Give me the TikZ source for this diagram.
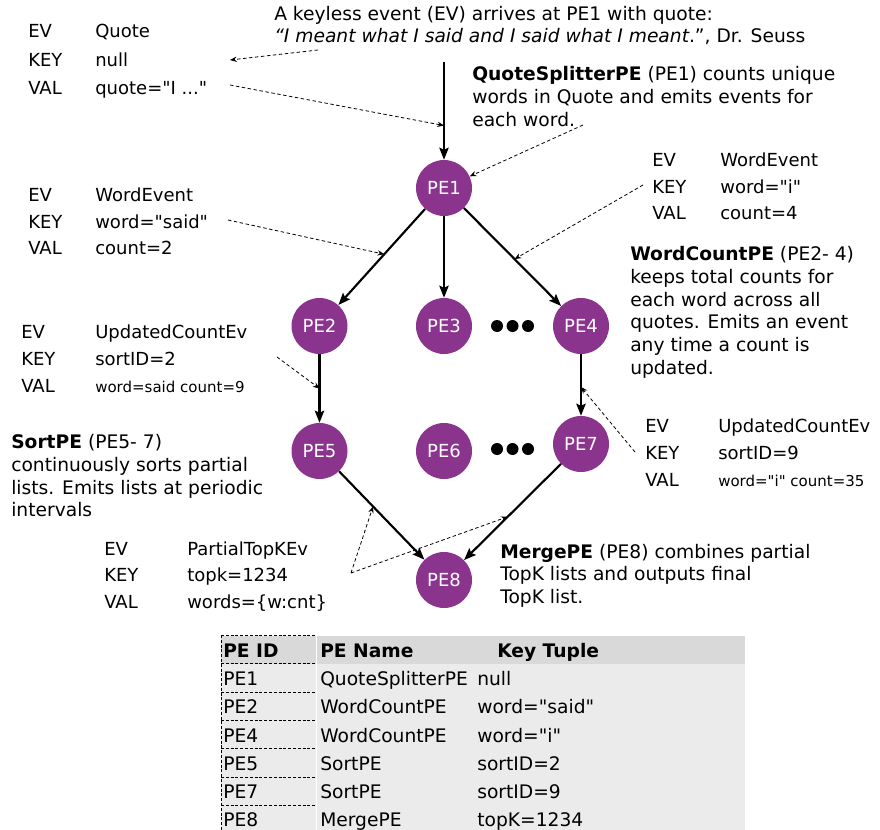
\documentclass[tikz,border=0pt]{standalone}
\usepackage{fontspec}
\setmainfont{DejaVu Sans}[Ligatures=TeXOff]
\usetikzlibrary{arrows.meta,calc}
\definecolor{pepurple}{HTML}{8B348E}
\definecolor{headgray}{HTML}{D9D9D9}
\definecolor{rowgray}{HTML}{EBEBEB}

\newcommand{\evsize}{\fontsize{13.5pt}{16pt}\selectfont}
\newcommand{\descsize}{\fontsize{14pt}{17pt}\selectfont}
\newcommand{\valsize}{\fontsize{11.25pt}{13pt}\selectfont}

% one event record: name, label x, value x, first baseline, row gap, EV, KEY, VAL
\newcommand{\evblock}[8]{%
  \node[evtxt] (#1-ev)   at (#2,#4)      {EV};
  \node[evtxt] (#1-key)  at (#2,#4+#5)   {KEY};
  \node[evtxt] (#1-val)  at (#2,#4+2*#5) {VAL};
  \node[evtxt] (#1-evv)  at (#3,#4)      {#6};
  \node[evtxt] (#1-keyv) at (#3,#4+#5)   {#7};
  \node[evtxt] (#1-valv) at (#3,#4+2*#5) {#8};
}

\begin{document}
\begin{tikzpicture}[x=0.75pt,y=-0.75pt,
  pe/.style={circle,fill=pepurple,minimum size=42pt,inner sep=0pt,text=white,
             font=\fontsize{13.5pt}{15pt}\selectfont},
  flow/.style={line width=1.6pt,-{Stealth[length=9pt,width=7pt,inset=1.5pt]}},
  note/.style={line width=0.6pt,dash pattern=on 2.6pt off 1.9pt,
               -{Stealth[length=5pt,width=4pt]}},
  tabdash/.style={line width=0.6pt,dash pattern=on 2.2pt off 1.4pt},
  evtxt/.style={anchor=base west,inner sep=0pt,font=\evsize},
  txt/.style={anchor=base west,inner sep=0pt,font=\descsize},
  desc/.style={anchor=north west,inner sep=0pt,align=left,font=\descsize},
  dot/.style={circle,fill=black,minimum size=9pt,inner sep=0pt},
]
\useasboundingbox (0,0) rectangle (880,830);

% ---- processing elements
\node[pe] (pe1) at (444,188) {PE1};
\node[pe] (pe2) at (319.5,326) {PE2};
\node[pe] (pe3) at (444,326) {PE3};
\node[pe] (pe4) at (581,326) {PE4};
\node[pe] (pe5) at (319.5,451) {PE5};
\node[pe] (pe6) at (444,451) {PE6};
\node[pe] (pe7) at (581,444) {PE7};
\node[pe] (pe8) at (444,580) {PE8};

\node[dot] (d1) at (497,326) {};
\node[dot] (d2) at (512.5,326) {};
\node[dot] (d3) at (528,326) {};
\node[dot] (d4) at (497,449) {};
\node[dot] (d5) at (512.5,449) {};
\node[dot] (d6) at (528,449) {};

% ---- event flow
\coordinate (src) at (444,62);
\draw[flow] (src) -- (pe1);
\draw[flow] (pe1) -- (pe2);
\draw[flow] (pe1) -- (pe3);
\draw[flow] (pe1) -- (pe4);
\draw[flow] (pe2) -- (pe5);
\draw[flow] (pe4) -- (pe7);
\draw[flow] (pe5) -- (pe8);
\draw[flow] (pe7) -- (pe8);

% ---- points on the flow lines that the callouts point at
\coordinate (m0)  at ($(src)!0.65!(pe1.north)$);
\coordinate (m12) at ($(pe1)!0.48!(pe2)$);
\coordinate (m14) at ($(pe1)!0.515!(pe4)$);
\coordinate (m25) at ($(pe2)!0.5!(pe5)$);
\coordinate (m47) at ($(pe4)!0.517!(pe7)$);
\coordinate (m58) at ($(pe5)!0.43!(pe8)$);
\coordinate (m78) at ($(pe7)!0.535!(pe8)$);

% ---- callout origins
\coordinate (qnote) at (318,50);
\coordinate (nullpt) at (230,60);
\coordinate (valq) at (230,85);
\coordinate (splitnote) at (583,125);
\coordinate (saidnote) at (228,220);
\coordinate (inote) at (643,185);
\coordinate (sort2note) at (277,357);
\coordinate (sort9note) at (635,452);
\coordinate (topknote) at (351,573);

\draw[note] (qnote) -- (nullpt);
\draw[note] (valq) -- (m0);
\draw[note] (splitnote) -- (pe1);
\draw[note] (saidnote) -- (m12);
\draw[note] (inote) -- (m14);
\draw[note] (sort2note) -- (m25);
\draw[note] (sort9note) -- (m47);
\draw[note] (topknote) -- (m58);
\draw[note] (topknote) -- (m78);

% ---- headline
\node[txt] (head1) at (274,21) {A keyless event (EV) arrives at PE1 with quote:};
\node[txt] (head2) at (274,43) {\itshape “I meant what I said and I said what I meant\upshape.”, Dr. Seuss};

% ---- event records
\evblock{quote}{28}{95}{38}{28.5}{Quote}{null}{quote="I ..."}
\evblock{said}{28}{95}{202}{26.5}{WordEvent}{word="said"}{count=2}
\evblock{wi}{652}{720}{167}{26.5}{WordEvent}{word="i"}{count=4}
\evblock{uc2}{21}{95}{338}{27}{UpdatedCountEv}{sortID=2}{{\valsize word=said count=9}}
\evblock{uc9}{645}{718}{432}{27}{UpdatedCountEv}{sortID=9}{{\valsize word="i" count=35}}
\evblock{ptk}{104}{187}{555}{26.5}{PartialTopKEv}{topk=1234}{words=\{w:cnt\}}

% ---- element descriptions
\node[desc] (dsplit) at (472,66.3) {\textbf{QuoteSplitterPE} (PE1) counts unique\\
  words in Quote and emits events for\\ each word.};
\node[desc] (dcount) at (630,246.3) {\textbf{WordCountPE} (PE2- 4)\\ keeps total counts for\\
  each word across all\\ quotes. Emits an event\\ any time a count is\\ updated.};
\node[desc] (dsort) at (11,434.3) {\textbf{SortPE} (PE5- 7)\\ continuously sorts partial\\
  lists. Emits lists at periodic\\ intervals};
\node[desc] (dmerge) at (500,543.8) {\textbf{MergePE} (PE8) combines partial\\
  TopK lists and outputs final\\ TopK list.};

% ---- key table
\fill[headgray] (221,636) rectangle (745,664);
\fill[rowgray] (221,664) rectangle (745,834);
\draw[white,line width=0.75pt] (316,636) -- (316,834);
\draw[tabdash] (221,635) -- (315,635);
\foreach \yy in {663,692,720,748,777,805}
  \draw[tabdash] (221,\yy) -- (315,\yy);
\draw[tabdash] (221,635) -- (221,834);

\node[txt,font=\descsize\bfseries] (th1) at (223,657) {PE ID};
\node[txt,font=\descsize\bfseries] (th2) at (320,657) {PE Name};
\node[txt,font=\descsize\bfseries] (th3) at (497,657) {Key Tuple};

\node[txt] (r1a) at (223,685) {PE1};
\node[txt] (r1b) at (320,685) {QuoteSplitterPE};
\node[txt] (r1c) at (477,685) {null};
\node[txt] (r2a) at (223,713.5) {PE2};
\node[txt] (r2b) at (320,713.5) {WordCountPE};
\node[txt] (r2c) at (477,713.5) {word="said"};
\node[txt] (r3a) at (223,742) {PE4};
\node[txt] (r3b) at (320,742) {WordCountPE};
\node[txt] (r3c) at (477,742) {word="i"};
\node[txt] (r4a) at (223,770) {PE5};
\node[txt] (r4b) at (320,770) {SortPE};
\node[txt] (r4c) at (477,770) {sortID=2};
\node[txt] (r5a) at (223,798.5) {PE7};
\node[txt] (r5b) at (320,798.5) {SortPE};
\node[txt] (r5c) at (477,798.5) {sortID=9};
\node[txt] (r6a) at (223,826.5) {PE8};
\node[txt] (r6b) at (320,826.5) {MergePE};
\node[txt] (r6c) at (477,826.5) {topK=1234};
\end{tikzpicture}
\end{document}
